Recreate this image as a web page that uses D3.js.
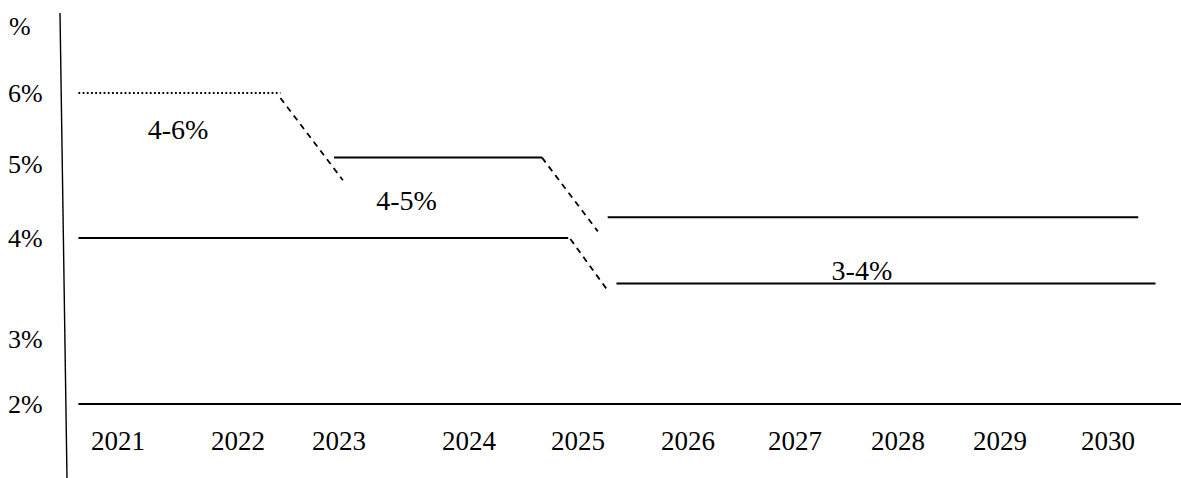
<!DOCTYPE html>
<html><head><meta charset="utf-8"><script src="https://cdn.jsdelivr.net/npm/d3@7"></script></head>
<body style="margin:0">
<svg id="chart" width="1181" height="478" font-family="Liberation Serif"></svg>
<script>
// ---- data ----
const years = [2021, 2022, 2023, 2024, 2025, 2026, 2027, 2028, 2029, 2030];
const yTickValues = [6, 5, 4, 3, 2];
const yTickLabels = ["6%", "5%", "4%", "3%", "2%"];
const unitLabel = "%";

// band lines: [startYear, startValue, endYear, endValue]
const bandLowerSolid = [
  [2020.67, 4.0, 2024.91, 4.0],
  [2025.35, 3.55, 2030.44, 3.55]
];
const bandUpperSolid = [
  [2022.95, 5.09, 2024.67, 5.09],
  [2025.27, 4.28, 2030.28, 4.28]
];
const bandUpperDotted = [
  [2020.67, 6.0, 2022.42, 6.0]
];
const transitionsDashed = [
  [2022.42, 5.93, 2023.03, 4.78],
  [2024.67, 5.09, 2025.18, 4.09],
  [2024.93, 3.99, 2025.27, 3.48]
];
const baseLine = [2020.67, 2.0, 2030.68, 2.0];

const bandLabels = ["4-6%", "4-5%", "3-4%"];
const bandLabelYears = [2021.5, 2023.52, 2027.65];
const bandLabelValues = [5.35, 4.38, 3.58];

// ---- layout ----
const xTickPos = [118, 238, 339, 469, 578, 688, 795, 898, 1000, 1108];
const yTickPos = [93, 164, 238, 339, 404];

const svg = d3.select("#chart");
const x = d3.scaleLinear().domain(years).range(xTickPos);
const y = d3.scaleLinear().domain(yTickValues).range(yTickPos);

// vertical axis line (slightly slanted, as in the drawing)
svg.append("line")
  .attr("x1", 60).attr("y1", 13).attr("x2", 67).attr("y2", 478)
  .attr("stroke", "#000").attr("stroke-width", 1.4);

function seg(g, data, dash, width) {
  g.selectAll(null).data(data).enter().append("line")
    .attr("x1", d => x(d[0])).attr("y1", d => y(d[1]))
    .attr("x2", d => x(d[2])).attr("y2", d => y(d[3]))
    .attr("stroke", "#000")
    .attr("stroke-width", width)
    .attr("stroke-dasharray", dash);
}
const g = svg.append("g");
seg(g, [baseLine], null, 2);
seg(g, bandLowerSolid, null, 2);
seg(g, bandUpperSolid, null, 2);
seg(g, bandUpperDotted, "1.8,2.4", 1.8);
seg(g, transitionsDashed, "6,5", 1.8);

const labels = [];
yTickValues.forEach((v, i) => labels.push({t: yTickLabels[i], x: 8, y: y(v) + 9, s: 26, a: "start"}));
labels.push({t: unitLabel, x: 9, y: 35, s: 26, a: "start"});
years.forEach(v => labels.push({t: String(v), x: x(v), y: 450, s: 27, a: "middle"}));
bandLabels.forEach((t, i) => labels.push({t, x: x(bandLabelYears[i]), y: y(bandLabelValues[i]), s: 28, a: "middle"}));

svg.selectAll("text").data(labels).enter().append("text")
  .attr("x", d => d.x).attr("y", d => d.y)
  .attr("text-anchor", d => d.a)
  .attr("font-family", "Liberation Serif")
  .style("font-family", "Liberation Serif")
  .attr("font-size", d => d.s)
  .attr("fill", "#000")
  .text(d => d.t);
</script>
</body>
</html>
